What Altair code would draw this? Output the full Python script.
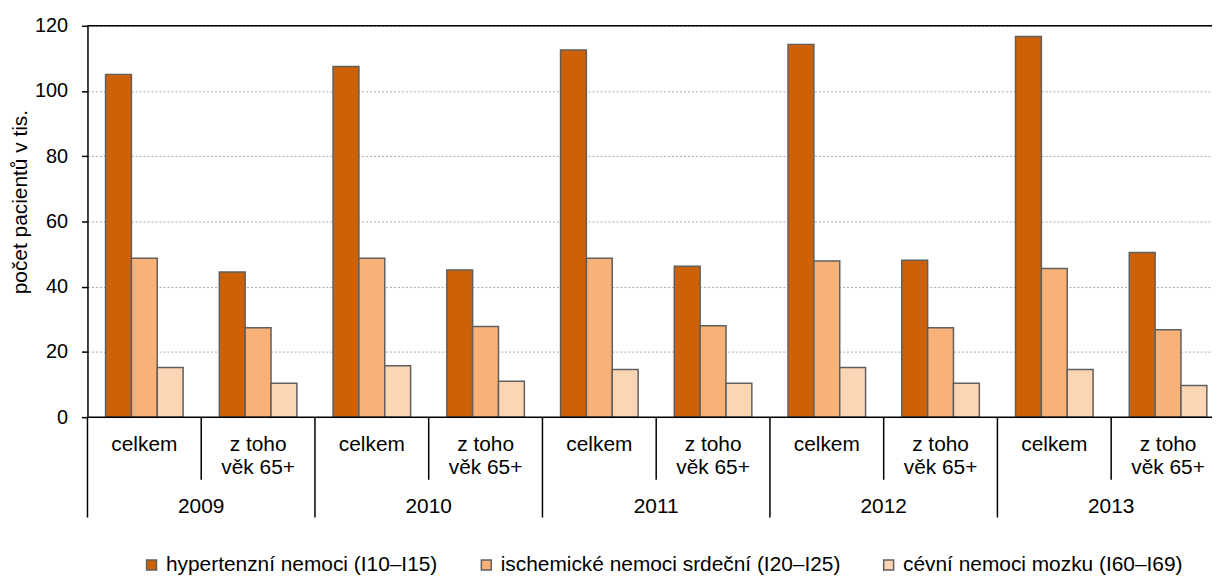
import altair as alt
import pandas as pd

years = ["2009", "2010", "2011", "2012", "2013"]
subgroups = ["celkem", "z toho\nvěk 65+"]
series = [
    "hypertenzní nemoci (I10–I15)",
    "ischemické nemoci srdeční (I20–I25)",
    "cévní nemoci mozku (I60–I69)",
]
colors = ["#CC6108", "#F8B277", "#FCD5B5"]

# values per (year, subgroup) in order: 2009 celkem, 2009 65+, 2010 celkem, ...
hyper = [105.1, 44.5, 107.5, 45.1, 112.6, 46.3, 114.3, 48.1, 116.7, 50.5]
ischem = [48.7, 27.4, 48.7, 27.8, 48.7, 28.0, 47.9, 27.4, 45.6, 26.8]
cevni = [15.2, 10.4, 15.8, 11.0, 14.6, 10.4, 15.2, 10.4, 14.6, 9.7]
y_ticks = [0, 20, 40, 60, 80, 100, 120]

keys = [f"{y}|{i}" for y in years for i in range(len(subgroups))]
labels = [g for y in years for g in subgroups]

rows = []
for k, a, b, c in zip(keys, hyper, ischem, cevni):
    for s, v in zip(series, (a, b, c)):
        rows.append({"key": k, "series": s, "value": v})
bars_df = pd.DataFrame(rows)
lab_df = pd.DataFrame({"key": keys, "label": labels})
year_df = pd.DataFrame({"key": [f"{y}|1" for y in years], "year": years})
inner_div_df = pd.DataFrame({"key": [f"{y}|1" for y in years]})
year_div_df = pd.DataFrame({"key": [f"{y}|0" for y in years]})

PLOT_H = 394
XRANGE = 1145
FONT = "Liberation Sans"

xscale = alt.Scale(domain=keys, range=[0, XRANGE], paddingInner=0, paddingOuter=0)

bars = alt.Chart(bars_df).mark_bar(stroke="#5f5f5f", strokeWidth=1.5).encode(
    x=alt.X("key:N", scale=xscale, axis=None, sort=keys),
    xOffset=alt.XOffset("series:N", sort=series,
                        scale=alt.Scale(domain=series, paddingOuter=0.7, paddingInner=0)),
    y=alt.Y("value:Q",
            scale=alt.Scale(domain=[0, 120], nice=False),
            axis=alt.Axis(values=y_ticks, grid=True, gridDash=[2, 2], gridColor="#a8a8a8",
                          gridWidth=1, domainColor="black", domainWidth=1.5,
                          tickColor="black", tickSize=6, tickWidth=1.5,
                          labelFontSize=20, labelFont=FONT, labelColor="black", labelPadding=14,
                          title="počet pacientů v tis.", titleFont=FONT, titleFontSize=21,
                          titleFontWeight="normal", titleColor="black",
                          titleX=-67, titleY=177, titleAlign="center", titleBaseline="middle",
                          titleAngle=270)),
    color=alt.Color("series:N", sort=series,
                    scale=alt.Scale(domain=series, range=colors),
                    legend=alt.Legend(orient="none", legendX=54, legendY=532,
                                      direction="horizontal", columns=3, title=None,
                                      symbolType="square", symbolSize=100,
                                      symbolStrokeColor="#5f5f5f", symbolStrokeWidth=1.5,
                                      labelFontSize=21, labelFont=FONT, labelColor="black",
                                      labelOffset=4, columnPadding=38, padding=0,
                                      labelLimit=0)),
)

top_rule = alt.Chart(pd.DataFrame({"a": [0]})).mark_rule(color="black", strokeWidth=1.5).encode(
    x=alt.value(0), x2=alt.value(XRANGE), y=alt.value(0))
bottom_rule = alt.Chart(pd.DataFrame({"a": [0]})).mark_rule(color="black", strokeWidth=1.5).encode(
    x=alt.value(0), x2=alt.value(XRANGE), y=alt.value(PLOT_H))

inner_div = alt.Chart(inner_div_df).mark_rule(color="black", strokeWidth=1.5).encode(
    x=alt.X("key:N", scale=xscale, axis=None, bandPosition=0),
    y=alt.value(PLOT_H), y2=alt.value(PLOT_H + 63))
year_div = alt.Chart(year_div_df).mark_rule(color="black", strokeWidth=1.5).encode(
    x=alt.X("key:N", scale=xscale, axis=None, bandPosition=0),
    y=alt.value(PLOT_H), y2=alt.value(PLOT_H + 101))

sub_text = alt.Chart(lab_df).mark_text(
    font=FONT, fontSize=21, color="black", baseline="alphabetic", align="center",
    lineBreak="\n", lineHeight=23).encode(
    x=alt.X("key:N", scale=xscale, axis=None, bandPosition=0.5),
    y=alt.value(428), text="label:N")

year_text = alt.Chart(year_df).mark_text(
    font=FONT, fontSize=21, color="black", baseline="alphabetic", align="center").encode(
    x=alt.X("key:N", scale=xscale, axis=None, bandPosition=0),
    y=alt.value(490), text="year:N")

chart = alt.layer(bars, top_rule, bottom_rule, inner_div, year_div, sub_text, year_text).properties(
    width=1132, height=PLOT_H,
    padding={"left": 80, "top": 16, "right": 0, "bottom": 161},
    autosize=alt.AutoSizeParams(type="none"),
    background="white",
).configure_view(stroke=None)

chart.save("out.html", embed_options={"renderer": "svg", "actions": False})
